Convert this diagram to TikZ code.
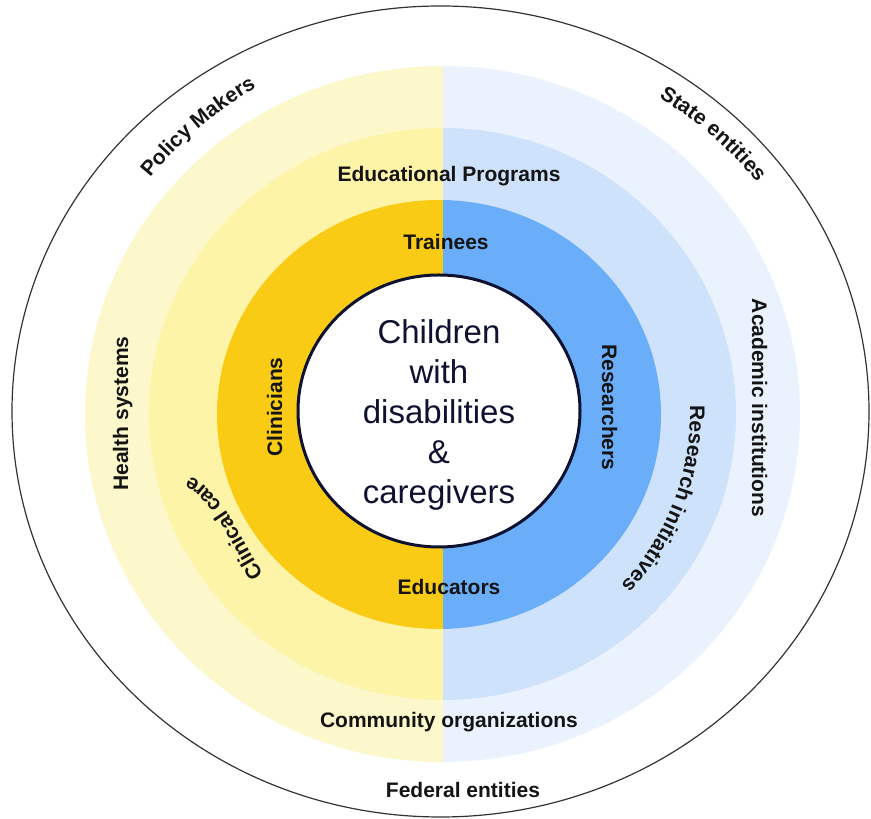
\documentclass[tikz,border=0pt]{standalone}
\usepackage{fontspec}
\setmainfont{Liberation Sans}
\usetikzlibrary{decorations.text,calc}
\definecolor{ylA}{HTML}{FCF8CB}
\definecolor{ylB}{HTML}{FDF4A8}
\definecolor{ylC}{HTML}{F9CB15}
\definecolor{blA}{HTML}{EAF3FD}
\definecolor{blB}{HTML}{CEE2FB}
\definecolor{blC}{HTML}{6AAEF9}
\definecolor{navy}{HTML}{0E1230}
\definecolor{labelc}{HTML}{141414}
\definecolor{outline}{HTML}{333333}
\newcommand\lblfont{\fontsize{21}{25}\selectfont\bfseries}
\begin{document}
\begin{tikzpicture}[x=1pt,y=1pt,
  lbl/.style={font=\lblfont, text=labelc, inner sep=0pt, anchor=base},
  curved/.style={decorate, decoration={text along path, text align=center,
     text color=labelc, text={|\lblfont|#1}}}]
\useasboundingbox (0,0) rectangle (871,819);
\coordinate (C) at (441,406);
% outer ring
\draw[fill=white, draw=outline, line width=1.2pt] (440.5,407.5) ellipse [x radius=428.5pt, y radius=405.5pt];
% yellow half
\begin{scope}
  \clip (0,0) rectangle (443,819);
  \fill[ylA] (442.5,405) ellipse [x radius=357.5pt, y radius=348pt];
  \fill[ylB] (442.5,405) ellipse [x radius=293.5pt, y radius=286pt];
  \fill[ylC] (439,404.5) ellipse [x radius=222pt, y radius=214.5pt];
\end{scope}
% blue half
\begin{scope}
  \clip (443,0) rectangle (871,819);
  \fill[blA] (442.5,405) ellipse [x radius=357.5pt, y radius=348pt];
  \fill[blB] (442.5,405) ellipse [x radius=293.5pt, y radius=286pt];
  \fill[blC] (439,404.5) ellipse [x radius=222pt, y radius=214.5pt];
\end{scope}
% centre
\draw[navy, line width=3pt, fill=white] (439,408) ellipse [x radius=141pt, y radius=136pt];
\node[align=center, font=\fontsize{33}{40}\selectfont, text=navy, inner sep=0pt] (centre) at (439,404)
  {Children\\with\\disabilities\\\&\\caregivers};
% straight labels
\node[lbl] (edu) at (449,637) {Educational Programs};
\node[lbl] (trainees) at (446,569) {Trainees};
\node[lbl] (educators) at (449,224.5) {Educators};
\node[lbl] (community) at (449,91) {Community organizations};
\node[lbl] (federal) at (463,21) {Federal entities};
\node[lbl, rotate=90] (health) at (128,405.5) {Health systems};
\node[lbl, rotate=-90] (academic) at (752,411) {Academic institutions};
\node[lbl, rotate=90] (clinicians) at (282,412) {Clinicians};
\node[lbl, rotate=-90] (researchers) at (602,411.5) {Researchers};
% curved labels
\path[curved={Policy Makers}] ($(C)+(160.3:374pt)$) arc[start angle=160.3, end angle=100.3, radius=374pt];
\path[curved={State entities}] ($(C)+(77:400pt and 376pt)$) arc[start angle=77, end angle=17, x radius=400pt, y radius=376pt];
\path[curved={Research initiatives}] ($(C)+(29:249pt)$) arc[start angle=29, end angle=-71, radius=249pt];
\path[curved={Clinical care}] (268,238) .. controls (241.5,274.4) and (224.3,330.6) .. (183,346);
\end{tikzpicture}
\end{document}
